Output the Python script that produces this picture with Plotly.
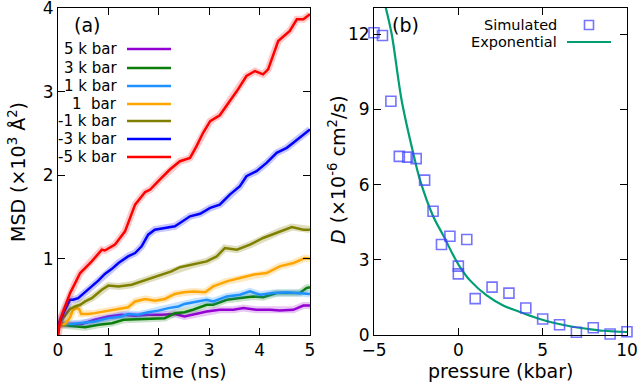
import plotly.graph_objects as go

W, H = 640, 384

# ---------------- Panel (a): MSD vs time ----------------
t_5k = [0, 0.2, 0.47, 0.73, 1.0, 1.26, 1.53, 1.79, 2.05, 2.32, 2.51, 2.68, 2.95, 3.21, 3.48, 3.68, 3.94, 4.21, 4.40, 4.67, 4.87, 5.0]
msd_5k = [0.21, 0.22, 0.22, 0.27, 0.31, 0.33, 0.32, 0.33, 0.33, 0.34, 0.31, 0.33, 0.37, 0.39, 0.39, 0.41, 0.39, 0.39, 0.38, 0.39, 0.44, 0.44]

t_3k = [0, 0.14, 0.34, 0.54, 0.8, 1.07, 1.3, 1.66, 1.92, 2.12, 2.32, 2.51, 2.68, 2.95, 3.08, 3.35, 3.61, 3.87, 4.07, 4.34, 4.60, 4.80, 4.93, 5.0]
msd_3k = [0.21, 0.20, 0.19, 0.18, 0.21, 0.23, 0.27, 0.28, 0.28, 0.29, 0.35, 0.36, 0.39, 0.45, 0.45, 0.51, 0.53, 0.55, 0.54, 0.59, 0.59, 0.59, 0.65, 0.66]

t_1k = [0, 0.07, 0.27, 0.47, 0.73, 1.0, 1.26, 1.39, 1.59, 1.79, 1.99, 2.19, 2.39, 2.51, 2.68, 2.95, 3.08, 3.35, 3.61, 3.81, 4.01, 4.27, 4.54, 4.80, 5.0]
msd_1k = [0.21, 0.23, 0.22, 0.23, 0.25, 0.29, 0.31, 0.34, 0.33, 0.36, 0.38, 0.41, 0.43, 0.46, 0.48, 0.51, 0.49, 0.55, 0.57, 0.61, 0.57, 0.59, 0.60, 0.59, 0.58]

t_1bar = [0, 0.14, 0.24, 0.3, 0.37, 0.42, 0.46, 0.6, 0.73, 0.93, 1.2, 1.39, 1.53, 1.73, 1.92, 2.12, 2.32, 2.49, 2.68, 2.92, 3.08, 3.35, 3.61, 3.87, 4.14, 4.40, 4.67, 4.90, 5.0]
msd_1bar = [0.21, 0.22, 0.30, 0.39, 0.41, 0.40, 0.34, 0.34, 0.35, 0.37, 0.40, 0.42, 0.49, 0.52, 0.50, 0.52, 0.58, 0.60, 0.61, 0.60, 0.67, 0.73, 0.77, 0.81, 0.83, 0.91, 0.95, 1.01, 1.0]

t_m1k = [0, 0.07, 0.24, 0.34, 0.44, 0.54, 0.67, 0.77, 0.87, 1.0, 1.2, 1.46, 1.66, 1.86, 2.05, 2.25, 2.42, 2.68, 2.95, 3.15, 3.31, 3.55, 3.81, 4.07, 4.40, 4.64, 4.87, 5.0]
msd_m1k = [0.21, 0.27, 0.40, 0.43, 0.45, 0.49, 0.53, 0.58, 0.63, 0.68, 0.67, 0.69, 0.73, 0.77, 0.81, 0.85, 0.90, 0.93, 0.97, 1.03, 1.13, 1.11, 1.17, 1.25, 1.33, 1.38, 1.35, 1.35]

t_m3k = [0, 0.07, 0.14, 0.24, 0.3, 0.4, 0.6, 0.8, 0.93, 1.07, 1.2, 1.39, 1.53, 1.66, 1.79, 1.92, 2.12, 2.32, 2.42, 2.62, 2.82, 3.02, 3.21, 3.41, 3.61, 3.74, 3.94, 4.14, 4.34, 4.54, 4.67, 4.83, 5.0]
msd_m3k = [0.21, 0.31, 0.39, 0.51, 0.51, 0.53, 0.63, 0.74, 0.82, 0.88, 0.95, 1.03, 1.07, 1.15, 1.29, 1.35, 1.37, 1.39, 1.43, 1.51, 1.54, 1.61, 1.65, 1.77, 1.87, 1.99, 2.05, 2.15, 2.27, 2.33, 2.39, 2.47, 2.55]

t_m5k = [0, 0.04, 0.14, 0.24, 0.34, 0.44, 0.67, 0.87, 0.93, 1.13, 1.33, 1.53, 1.73, 1.83, 2.02, 2.22, 2.42, 2.55, 2.62, 2.75, 2.88, 3.02, 3.21, 3.55, 3.74, 3.91, 4.07, 4.17, 4.37, 4.60, 4.74, 4.87, 5.0]
msd_m5k = [0.05, 0.27, 0.43, 0.59, 0.71, 0.83, 0.97, 1.11, 1.10, 1.17, 1.33, 1.65, 1.80, 1.83, 1.95, 2.07, 2.17, 2.19, 2.21, 2.35, 2.51, 2.65, 2.72, 3.01, 3.19, 3.25, 3.21, 3.27, 3.61, 3.73, 3.87, 3.87, 3.93]

labels_a = ["5 k bar", "3 k bar", "1 k bar", "1  bar", "-1 k bar", "-3 k bar", "-5 k bar"]
colors_a = ["#9400d3", "#0b7d0b", "#1e90ff", "#ffa500", "#808000", "#0000ff", "#ff0000"]
halo_a = ["rgba(148,0,211,0.22)", "rgba(11,125,11,0.22)", "rgba(30,144,255,0.25)", "rgba(255,165,0,0.25)",
          "rgba(128,128,0,0.25)", "rgba(0,0,255,0.22)", "rgba(255,0,0,0.22)"]
times = [t_5k, t_3k, t_1k, t_1bar, t_m1k, t_m3k, t_m5k]
msds = [msd_5k, msd_3k, msd_1k, msd_1bar, msd_m1k, msd_m3k, msd_m5k]

# ---------------- Panel (b): D vs pressure ----------------
pressure = [-5, -4.5, -4, -3.5, -3, -2.5, -2, -1.5, -1, -0.5, 0, 0, 0.5, 1, 2, 3, 4, 5, 6, 7, 8, 9, 10]
D_sim = [12.06, 11.95, 9.33, 7.13, 7.1, 7.04, 6.18, 4.94, 3.61, 3.94, 2.75, 2.44, 3.81, 1.45, 1.91, 1.67, 1.08, 0.64, 0.41, 0.11, 0.29, 0.04, 0.13]

p_fit = [-4.31, -3.95, -3.36, -2.63, -2.27, -1.5, -0.89, -0.30, 0.10, 0.69, 1.68, 2.66, 3.65, 4.64, 5.63, 6.62, 7.61, 8.59, 10.0]
D_fit = [13.08, 12.0, 9.36, 7.13, 6.18, 4.75, 3.97, 3.18, 2.71, 2.18, 1.58, 1.18, 0.92, 0.68, 0.49, 0.35, 0.25, 0.17, 0.12]

FONT = "DejaVu Sans"

fig = go.Figure()

for t, m, c, hc, lab in zip(times, msds, colors_a, halo_a, labels_a):
    fig.add_trace(go.Scatter(x=t, y=m, mode="lines", line=dict(color=hc, width=7),
                             hoverinfo="skip", showlegend=False, xaxis="x", yaxis="y"))
    fig.add_trace(go.Scatter(x=t, y=m, mode="lines", line=dict(color=c, width=2.5),
                             name=lab, showlegend=False, xaxis="x", yaxis="y"))

fig.add_trace(go.Scatter(x=p_fit, y=D_fit, mode="lines", line=dict(color="#009e73", width=2.2, shape="spline"),
                         name="Exponential", showlegend=False, xaxis="x2", yaxis="y2"))
fig.add_trace(go.Scatter(x=pressure, y=D_sim, mode="markers",
                         marker=dict(symbol="square-open", size=10, color="rgba(70,70,255,0.75)",
                                     line=dict(width=1.6, color="rgba(70,70,255,0.75)")),
                         name="Simulated", showlegend=False, cliponaxis=False, xaxis="x2", yaxis="y2"))

def px(x):
    return x / W

def py(y):
    return 1 - y / H

ydom = [py(335), py(8)]
axis_common = dict(showline=True, linecolor="black", linewidth=1, mirror="allticks", ticks="inside",
                   ticklen=7, tickcolor="black", showgrid=False, zeroline=False, automargin=False,
                   ticklabeloverflow="allow",
                   tickfont=dict(family=FONT, size=17, color="black"))

fig.update_layout(
    width=W, height=H, margin=dict(l=0, r=0, t=0, b=0, autoexpand=False),
    paper_bgcolor="white", plot_bgcolor="white", showlegend=False,
    font=dict(family=FONT, color="black"),
    xaxis=dict(domain=[px(58), px(310)], range=[0, 5.001], tickvals=[0, 1, 2, 3, 4, 5], anchor="y", **axis_common),
    yaxis=dict(domain=ydom, range=[0.088, 4.005], tickvals=[1, 2, 3, 4], anchor="x", **axis_common),
    xaxis2=dict(domain=[px(374), px(627)], range=[-5.001, 10.001], tickvals=[-5, 0, 5, 10], anchor="y2", **axis_common),
    yaxis2=dict(domain=ydom, range=[0, 13.05], tickvals=[0, 3, 6, 9, 12], anchor="x2", **axis_common),
)

def note(x, y, text, size, xanchor="center", angle=0):
    return dict(x=px(x), y=py(y), xref="paper", yref="paper", text=text, showarrow=False,
                xanchor=xanchor, yanchor="middle", textangle=angle, font=dict(family=FONT, size=size))

ann = []
shapes = []
# axis titles
ann.append(note(184, 371, "time (ns)", 19))
ann.append(note(500, 371, "pressure (kbar)", 19))
ann.append(note(17, 172, "MSD (×10<sup>3</sup> Å<sup>2</sup>)", 19, angle=-90))
ann.append(note(337, 170, "<i>D</i> (×10<sup>-6</sup> cm<sup>2</sup>/s)", 19, angle=-90))
# panel labels
ann.append(note(87, 25, "(a)", 19))
ann.append(note(405, 25, "(b)", 19))

# legend (a)
rows = [49, 68, 86, 104, 121, 139, 157]
for r, lab, c in zip(rows, labels_a, colors_a):
    ann.append(note(119, r, lab, 15, xanchor="right"))
    shapes.append(dict(type="line", xref="paper", yref="paper", x0=px(127), x1=px(171), y0=py(r), y1=py(r),
                       line=dict(color=c, width=2.5)))

# legend (b)
ann.append(note(559, 25, "Simulated", 14.5, xanchor="right"))
ann.append(note(559, 42, "Exponential", 14.5, xanchor="right"))
shapes.append(dict(type="rect", xref="paper", yref="paper", x0=px(584.5), x1=px(593.5), y0=py(29.5), y1=py(20.5),
                   line=dict(color="rgba(70,70,255,0.75)", width=1.6)))
shapes.append(dict(type="line", xref="paper", yref="paper", x0=px(567), x1=px(611), y0=py(42), y1=py(42),
                   line=dict(color="#009e73", width=2.2)))

fig.update_layout(annotations=ann, shapes=shapes)
fig.write_html("out.html", config={"displayModeBar": False},
               post_script="document.body.style.margin='0px';document.body.style.padding='0px';")
